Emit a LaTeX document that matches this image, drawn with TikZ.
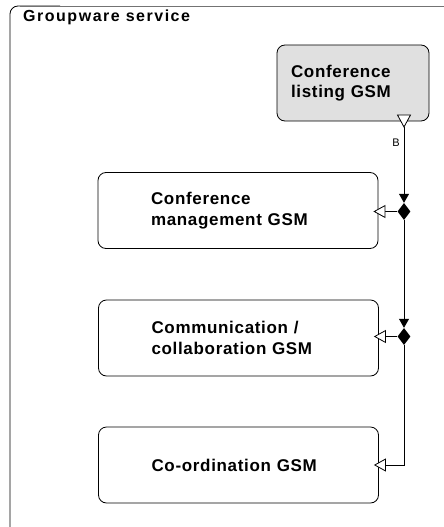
\documentclass[tikz,border=0pt]{standalone}
\usepackage{fontspec}
\setmainfont{Liberation Sans}
\newfontfamily\gsmfamily{Liberation Sans}[LetterSpace=4]
\newfontfamily\titlefamily{Liberation Sans}[LetterSpace=9.5]
\usetikzlibrary{arrows.meta,shapes.geometric,calc}
\tikzset{
  gsm/.style={draw=black, line width=0.8pt, rounded corners=8pt,
    minimum width=280pt, minimum height=76pt, text width=174pt,
    inner xsep=53pt, inner ysep=0pt, align=left,
    font=\gsmfamily\bfseries\fontsize{17}{20.5}\selectfont},
  listbox/.style={gsm, fill=black!12, minimum width=152pt, text width=124pt, inner xsep=14pt},
  joint/.style={shape=diamond, fill=black, draw=none, inner sep=0pt,
    minimum width=13pt, minimum height=17pt},
  conn/.style={line width=0.8pt, draw=black},
  filledtip/.style={conn, -{Triangle[length=9pt,width=10pt]}},
  opentip/.style={conn, -{Triangle[open,fill=white,length=12pt,width=13pt]}},
}
\begin{document}
\begin{tikzpicture}[x=1pt,y=-1pt]
\useasboundingbox (0,0) rectangle (444,527);
\clip (0,0) rectangle (444,527);
% outer frame
\draw[line width=0.8pt, rounded corners=8pt] (60,6) -- (10,6) -- (10,540);
\draw[line width=0.8pt, black!55] (20,6) -- (450,6);
\node[anchor=base west, inner sep=0pt, font=\titlefamily\bfseries\fontsize{16}{19}\selectfont] (title) at (23,22) {Groupware service};
% boxes
\node[listbox] (listing) at (353,83) {Conference\\listing GSM};
\node[gsm] (box1) at (238,210.5) {Conference\\management GSM};
\node[gsm] (box2) at (238.5,338) {Communication /\\collaboration GSM};
\node[gsm] (box3) at (238.5,465) {Co-ordination GSM};
% joints
\node[joint] (d1) at (404,211.5) {};
\node[joint] (d2) at (404,336.5) {};
\coordinate (lb) at (404,121);
\coordinate (t1) at ($(box1.east)+(-5,0)$);
\coordinate (t2) at ($(box2.east)+(-5,0)$);
\coordinate (t3) at ($(box3.east)+(-5,0)$);
% connectors
\draw[filledtip] ($(lb)+(0,6)$) -- (d1.north);
\draw[conn, fill=white] ($(lb)+(-6.5,-6)$) -- ($(lb)+(6.5,-6)$) -- ($(lb)+(0,6)$) -- cycle;
\node[font=\fontsize{11}{13}\selectfont, inner sep=0pt] (blabel) at (396,142.5) {B};
\draw[opentip] (d1.west) -- (d1 -| t1);
\draw[filledtip] (d1.south) -- (d2.north);
\draw[opentip] (d2.west) -- (d2 -| t2);
\draw[opentip] (d2.south) |- (t3);
\end{tikzpicture}
\end{document}
